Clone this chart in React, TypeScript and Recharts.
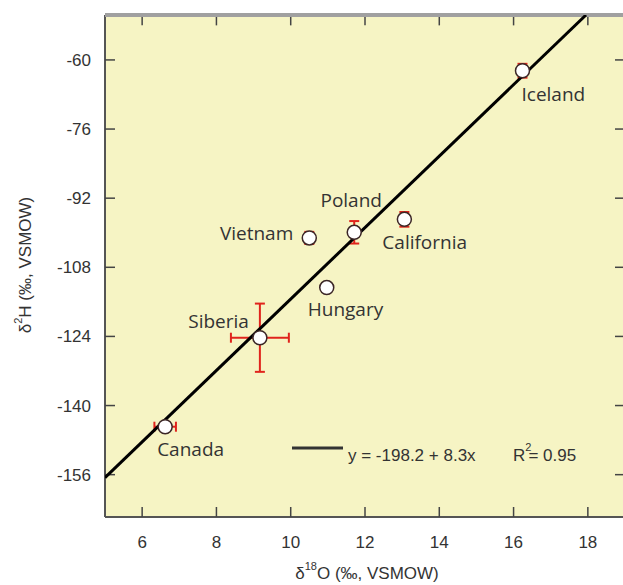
import React from 'react';
import { ScatterChart, Scatter, XAxis, YAxis, CartesianGrid, ErrorBar, Customized, ReferenceLine } from 'recharts';

// ---- data ----
const countries = ['Iceland', 'Poland', 'California', 'Vietnam', 'Hungary', 'Siberia', 'Canada'];
const d18O = [16.24, 11.71, 13.06, 10.5, 10.97, 9.17, 6.62];
const d2H = [-62.5, -99.9, -96.9, -101.2, -112.7, -124.3, -144.9];
const d18OErr = [0, 0, 0, 0, 0, 0.78, 0.29];
const d2HErr = [1.6, 2.6, 1.7, 1.4, 0, 7.9, 0];
const fitX = [5, 17.95];
const fitY = [-156.7, -49.6];
const xTicks = [6, 8, 10, 12, 14, 16, 18];
const yTicks = [-60, -76, -92, -108, -124, -140, -156];
const xDomain: [number, number] = [5, 19];
const yDomain: [number, number] = [-165.8, -49.6];
const equationText = 'y = -198.2 + 8.3x';
const r2Text = '= 0.95';

const points = countries.map((name, i) => ({ name, x: d18O[i], y: d2H[i], ex: d18OErr[i], ey: d2HErr[i] }));
const fitLine = fitX.map((x, i) => ({ x, y: fitY[i] }));

// ---- styling ----
const labelPlacement: Record<string, { dx: number; dy: number; anchor: 'start' | 'middle' | 'end' }> = {
  Iceland: { dx: -1, dy: 23, anchor: 'start' },
  Poland: { dx: -3, dy: -32, anchor: 'middle' },
  California: { dx: -22, dy: 23, anchor: 'start' },
  Vietnam: { dx: -16, dy: -5, anchor: 'end' },
  Hungary: { dx: -19, dy: 21, anchor: 'start' },
  Siberia: { dx: -11, dy: -17, anchor: 'end' },
  Canada: { dx: -8, dy: 22, anchor: 'start' },
};

const ARIAL = 'Liberation Sans, Arial, sans-serif';
const BG = '#f6f4c4';
const TEXT = '#333';
const TICK_COLOR = '#444';
const TOP_TICK_LEN = 2.4; // in d2H units (~10 px)
const blank = () => '';

function PointShape(props: any) {
  const { cx, cy, payload } = props;
  const p = labelPlacement[payload.name];
  return (
    <g>
      <circle cx={cx} cy={cy} r={7} fill="#fff" stroke="#3b2626" strokeWidth={1.5} />
      <text
        x={cx + p.dx}
        y={cy + p.dy}
        textAnchor={p.anchor}
        dominantBaseline="central"
        fontFamily="Open Sans, sans-serif"
        fontSize={19}
        fill={TEXT}
      >
        {payload.name}
      </text>
    </g>
  );
}

const NoShape = () => <g />;

const Overlay = () => (
  <g>
    <line x1={292} y1={448} x2={343} y2={448} stroke="#333" strokeWidth={3} />
    <text x={348} y={455} dominantBaseline="central" fontFamily={ARIAL} fontSize={17} fill={TEXT}>
      {equationText}
    </text>
    <text x={513} y={455} dominantBaseline="central" fontFamily={ARIAL} fontSize={17} fill={TEXT}>
      R
      <tspan dy={-8} fontSize={11}>2</tspan>
      <tspan dx={-3} dy={8}>{r2Text}</tspan>
    </text>
    <text x={367} y={573} textAnchor="middle" dominantBaseline="central" fontFamily={ARIAL} fontSize={17} fill={TEXT}>
      δ<tspan dy={-7} fontSize={11}>18</tspan>
      <tspan dy={7}>O (‰, VSMOW)</tspan>
    </text>
    <text
      x={25}
      y={265}
      transform="rotate(-90 25 265)"
      textAnchor="middle"
      dominantBaseline="central"
      fontFamily={ARIAL}
      fontSize={17}
      fill={TEXT}
    >
      δ<tspan dy={-7} fontSize={11}>2</tspan>
      <tspan dy={7}>H (‰, VSMOW)</tspan>
    </text>
  </g>
);

export default function App() {
  const tickStyle = { fontSize: 17, fill: TEXT, fontFamily: ARIAL };
  const tickLine = { stroke: TICK_COLOR, strokeWidth: 1.5 };
  return (
    <div style={{ position: 'fixed', left: 0, top: 0, width: 623, height: 585, overflow: 'hidden', background: '#fff' }}>
      <ScatterChart width={640} height={585} margin={{ top: 4, right: 14, bottom: 8, left: 15 }}>
        <CartesianGrid horizontal={false} vertical={false} fill={BG} stroke="none" />
        <XAxis
          type="number"
          dataKey="x"
          domain={xDomain}
          ticks={xTicks}
          interval={0}
          allowDataOverflow
          tickSize={-10}
          tickMargin={29}
          height={60}
          tick={tickStyle}
          tickLine={tickLine}
          axisLine={{ stroke: '#555', strokeWidth: 2 }}
        />
        <YAxis
          type="number"
          dataKey="y"
          domain={yDomain}
          ticks={yTicks}
          interval={0}
          allowDataOverflow
          tickSize={-10}
          tickMargin={24}
          width={90}
          tick={tickStyle}
          tickLine={tickLine}
          axisLine={{ stroke: '#555', strokeWidth: 2 }}
        />
        <XAxis
          xAxisId="top"
          orientation="top"
          type="number"
          domain={xDomain}
          ticks={xTicks}
          interval={0}
          allowDataOverflow
          height={11}
          tick={false}
          tickLine={false}
          axisLine={{ stroke: '#a0a0a0', strokeWidth: 4 }}
        />
        <YAxis
          yAxisId="right"
          orientation="right"
          type="number"
          domain={yDomain}
          ticks={yTicks}
          interval={0}
          allowDataOverflow
          tickSize={-10}
          width={1}
          tickFormatter={blank}
          tickLine={tickLine}
          axisLine={{ stroke: '#555', strokeWidth: 2 }}
        />
        {xTicks.map((t) => (
          <ReferenceLine
            key={`tt-${t}`}
            segment={[
              { x: t, y: yDomain[1] },
              { x: t, y: yDomain[1] - TOP_TICK_LEN },
            ]}
            stroke={TICK_COLOR}
            strokeWidth={1.5}
            ifOverflow="visible"
          />
        ))}
        <Scatter
          data={fitLine}
          line={{ stroke: '#000', strokeWidth: 3 }}
          shape={NoShape}
          isAnimationActive={false}
        />
        <Scatter data={points} shape={PointShape} isAnimationActive={false}>
          <ErrorBar dataKey="ex" direction="x" width={5} stroke="#e0241c" strokeWidth={2} />
          <ErrorBar dataKey="ey" direction="y" width={5} stroke="#e0241c" strokeWidth={2} />
        </Scatter>
        <Customized component={Overlay} />
      </ScatterChart>
    </div>
  );
}
